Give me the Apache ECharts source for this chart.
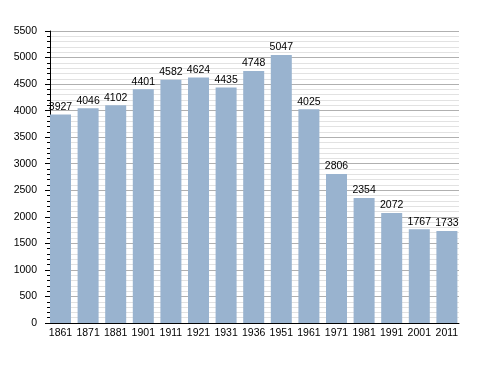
<!DOCTYPE html>
<html><head><meta charset="utf-8">
<script src="https://cdn.jsdelivr.net/npm/echarts@6/dist/echarts.min.js"></script>
<style>html,body{margin:0;padding:0;background:#fff}#c{width:488px;height:373px}</style>
</head><body><div id="c"></div>
<script>
var categories = ['1861','1871','1881','1901','1911','1921','1931','1936','1951','1961','1971','1981','1991','2001','2011'];
var population = [3927,4046,4102,4401,4582,4624,4435,4748,5047,4025,2806,2354,2072,1767,1733];
var yMax = 5500, yStep = 500;
var chart = echarts.init(document.getElementById('c'), null, {renderer:'canvas'});
chart.setOption({
  animation:false,
  textStyle:{fontFamily:'Liberation Sans'},
  grid:[
    {left:50,width:409,top:31,bottom:50,containLabel:false},
    {left:46.7,width:414,top:31,bottom:50,containLabel:false}
  ],
  xAxis:[
    {type:'value',gridIndex:0,min:0,max:1,
      axisLine:{show:true,onZero:false,lineStyle:{color:'#000',width:1}},
      axisTick:{show:false},axisLabel:{show:false},splitLine:{show:false}},
    {type:'category',gridIndex:1,data:categories,
      axisLine:{show:false},axisTick:{show:false},
      axisLabel:{color:'#000',fontSize:10.5,margin:5,interval:0}}
  ],
  yAxis:[
    {type:'value',gridIndex:0,min:0,max:yMax,interval:yStep,
      axisLine:{show:true,lineStyle:{color:'#000',width:1}},
      axisTick:{show:true,length:5,lineStyle:{color:'#000'}},
      minorTick:{show:true,splitNumber:5,length:3,lineStyle:{color:'#000'}},
      splitLine:{lineStyle:{color:'#b0b0b0',width:1}},
      minorSplitLine:{show:true,lineStyle:{color:'#e2e2e2',width:1}},
      axisLabel:{color:'#000',fontSize:10.5,margin:13,formatter:function(v){return String(v);}}},
    {type:'value',gridIndex:1,min:0,max:yMax,interval:yStep,show:false,
      splitLine:{show:false}}
  ],
  series:[{type:'bar',xAxisIndex:1,yAxisIndex:1,data:population,barWidth:21,
    itemStyle:{color:'#99b3cf'},
    label:{show:true,position:'top',color:'#000',fontSize:10.5,distance:2}}]
});
</script></body></html>
